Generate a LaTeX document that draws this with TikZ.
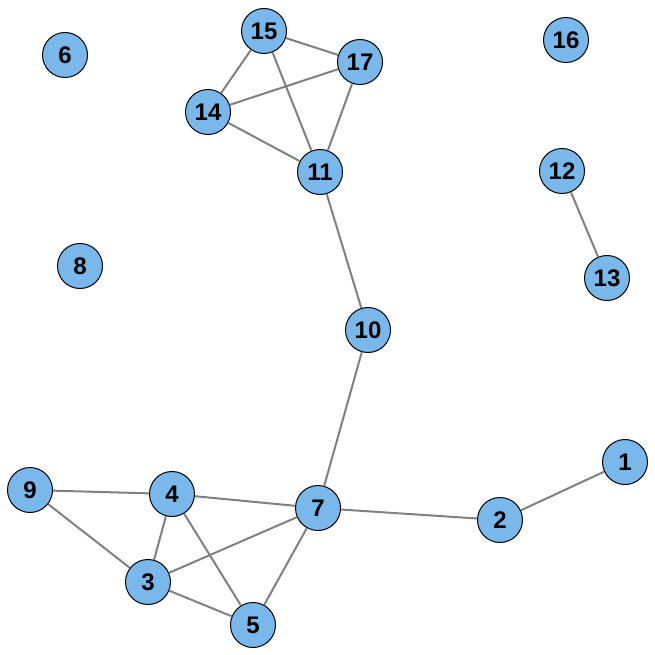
\documentclass[tikz,border=0pt]{standalone}
\usepackage{fontspec}
\setmainfont{Liberation Sans}
\usepackage{tikz}
\usetikzlibrary{calc}
\usepackage{xcolor}
\definecolor{vertexblue}{RGB}{122,184,236}
\definecolor{edgegray}{RGB}{128,128,128}

\begin{document}
\begin{tikzpicture}[x=1pt,y=-1pt]
  \tikzset{graphvertex/.style={circle,fill=vertexblue,draw=black,line width=1pt,inner sep=0pt,minimum size=45pt,font=\fontsize{24}{26}\selectfont\bfseries}}
  \tikzset{graphedge/.style={draw=edgegray,line width=2pt}}
  \useasboundingbox (0,0) rectangle (655,655);
  \node[graphvertex] (v1) at (625,462) {1};
  \node[graphvertex] (v2) at (500,520) {2};
  \node[graphvertex] (v3) at (148,582) {3};
  \node[graphvertex] (v4) at (172,494) {4};
  \node[graphvertex] (v5) at (253,625) {5};
  \node[graphvertex] (v6) at (65,55) {6};
  \node[graphvertex] (v7) at (318,508) {7};
  \node[graphvertex] (v8) at (80,266) {8};
  \node[graphvertex] (v9) at (30,490) {9};
  \node[graphvertex] (v10) at (368,330) {10};
  \node[graphvertex] (v11) at (320,172) {11};
  \node[graphvertex] (v12) at (562,171) {12};
  \node[graphvertex] (v13) at (607,278) {13};
  \node[graphvertex] (v14) at (208,112) {14};
  \node[graphvertex] (v15) at (264,31) {15};
  \node[graphvertex] (v16) at (566,40) {16};
  \node[graphvertex] (v17) at (360,62) {17};
  \draw[graphedge] (v1) -- (v2);
  \draw[graphedge] (v2) -- (v7);
  \draw[graphedge] (v7) -- (v4);
  \draw[graphedge] (v7) -- (v3);
  \draw[graphedge] (v7) -- (v5);
  \draw[graphedge] (v7) -- (v10);
  \draw[graphedge] (v4) -- (v9);
  \draw[graphedge] (v4) -- (v3);
  \draw[graphedge] (v4) -- (v5);
  \draw[graphedge] (v9) -- (v3);
  \draw[graphedge] (v3) -- (v5);
  \draw[graphedge] (v10) -- (v11);
  \draw[graphedge] (v11) -- (v14);
  \draw[graphedge] (v11) -- (v15);
  \draw[graphedge] (v11) -- (v17);
  \draw[graphedge] (v14) -- (v15);
  \draw[graphedge] (v14) -- (v17);
  \draw[graphedge] (v15) -- (v17);
  \draw[graphedge] (v12) -- (v13);
\end{tikzpicture}
\end{document}
